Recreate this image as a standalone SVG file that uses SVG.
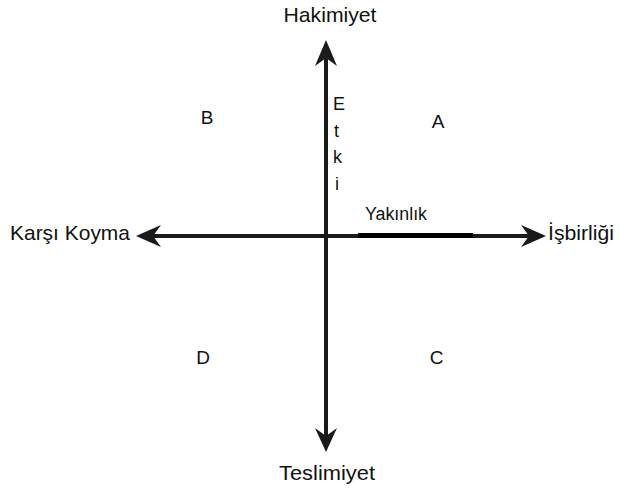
<svg xmlns="http://www.w3.org/2000/svg" width="619" height="495" viewBox="0 0 619 495">
<style>
text{font-family:"Liberation Sans",Arial,sans-serif;fill:#111}
.lab{font-size:21px}
.q{font-size:19px}
.s{font-size:18px}
.ax{stroke:#1a1a1a;stroke-width:4;fill:none}
.head{fill:#1a1a1a}
</style>
<rect width="619" height="495" fill="#fff"/>
<g id="connectors">
<line class="ax" x1="326" y1="55" x2="326" y2="440"/>
<line class="ax" x1="147" y1="236" x2="535" y2="236"/>
<line x1="358" y1="235.5" x2="473" y2="235.5" stroke="#000" stroke-width="5"/>
<path class="head" d="M326 40 L337 66 L326 58 L315 66 Z"/>
<path class="head" d="M326 452 L337 428 L326 436 L315 428 Z"/>
<path class="head" d="M136 236 L161 225 L153 236 L161 247 Z"/>
<path class="head" d="M546 236 L521 225 L529 236 L521 247 Z"/>
</g>
<g id="hakimiyet"><text class="lab" x="330" y="22" text-anchor="middle" textLength="93" lengthAdjust="spacingAndGlyphs">Hakimiyet</text></g>
<g id="teslimiyet"><text class="lab" x="327" y="480" text-anchor="middle" textLength="96" lengthAdjust="spacingAndGlyphs">Teslimiyet</text></g>
<g id="karsi"><text class="lab" x="10" y="240" textLength="120" lengthAdjust="spacingAndGlyphs">Karşı Koyma</text></g>
<g id="isbirligi"><text class="lab" x="548" y="240" textLength="66" lengthAdjust="spacingAndGlyphs">İşbirliği</text></g>
<g id="A"><text class="q" x="438" y="128" text-anchor="middle">A</text></g>
<g id="B"><text class="q" x="207" y="124" text-anchor="middle">B</text></g>
<g id="C"><text class="q" x="436.5" y="364" text-anchor="middle">C</text></g>
<g id="D"><text class="q" x="203" y="364" text-anchor="middle">D</text></g>
<g id="etki">
<text class="s" x="333" y="110">E</text>
<text class="s" x="334" y="137">t</text>
<text class="s" x="333" y="163">k</text>
<text class="s" x="335" y="190">i</text>
</g>
<g id="yakinlik"><text class="s" x="365" y="220" textLength="62" lengthAdjust="spacingAndGlyphs">Yakınlık</text></g>
</svg>
